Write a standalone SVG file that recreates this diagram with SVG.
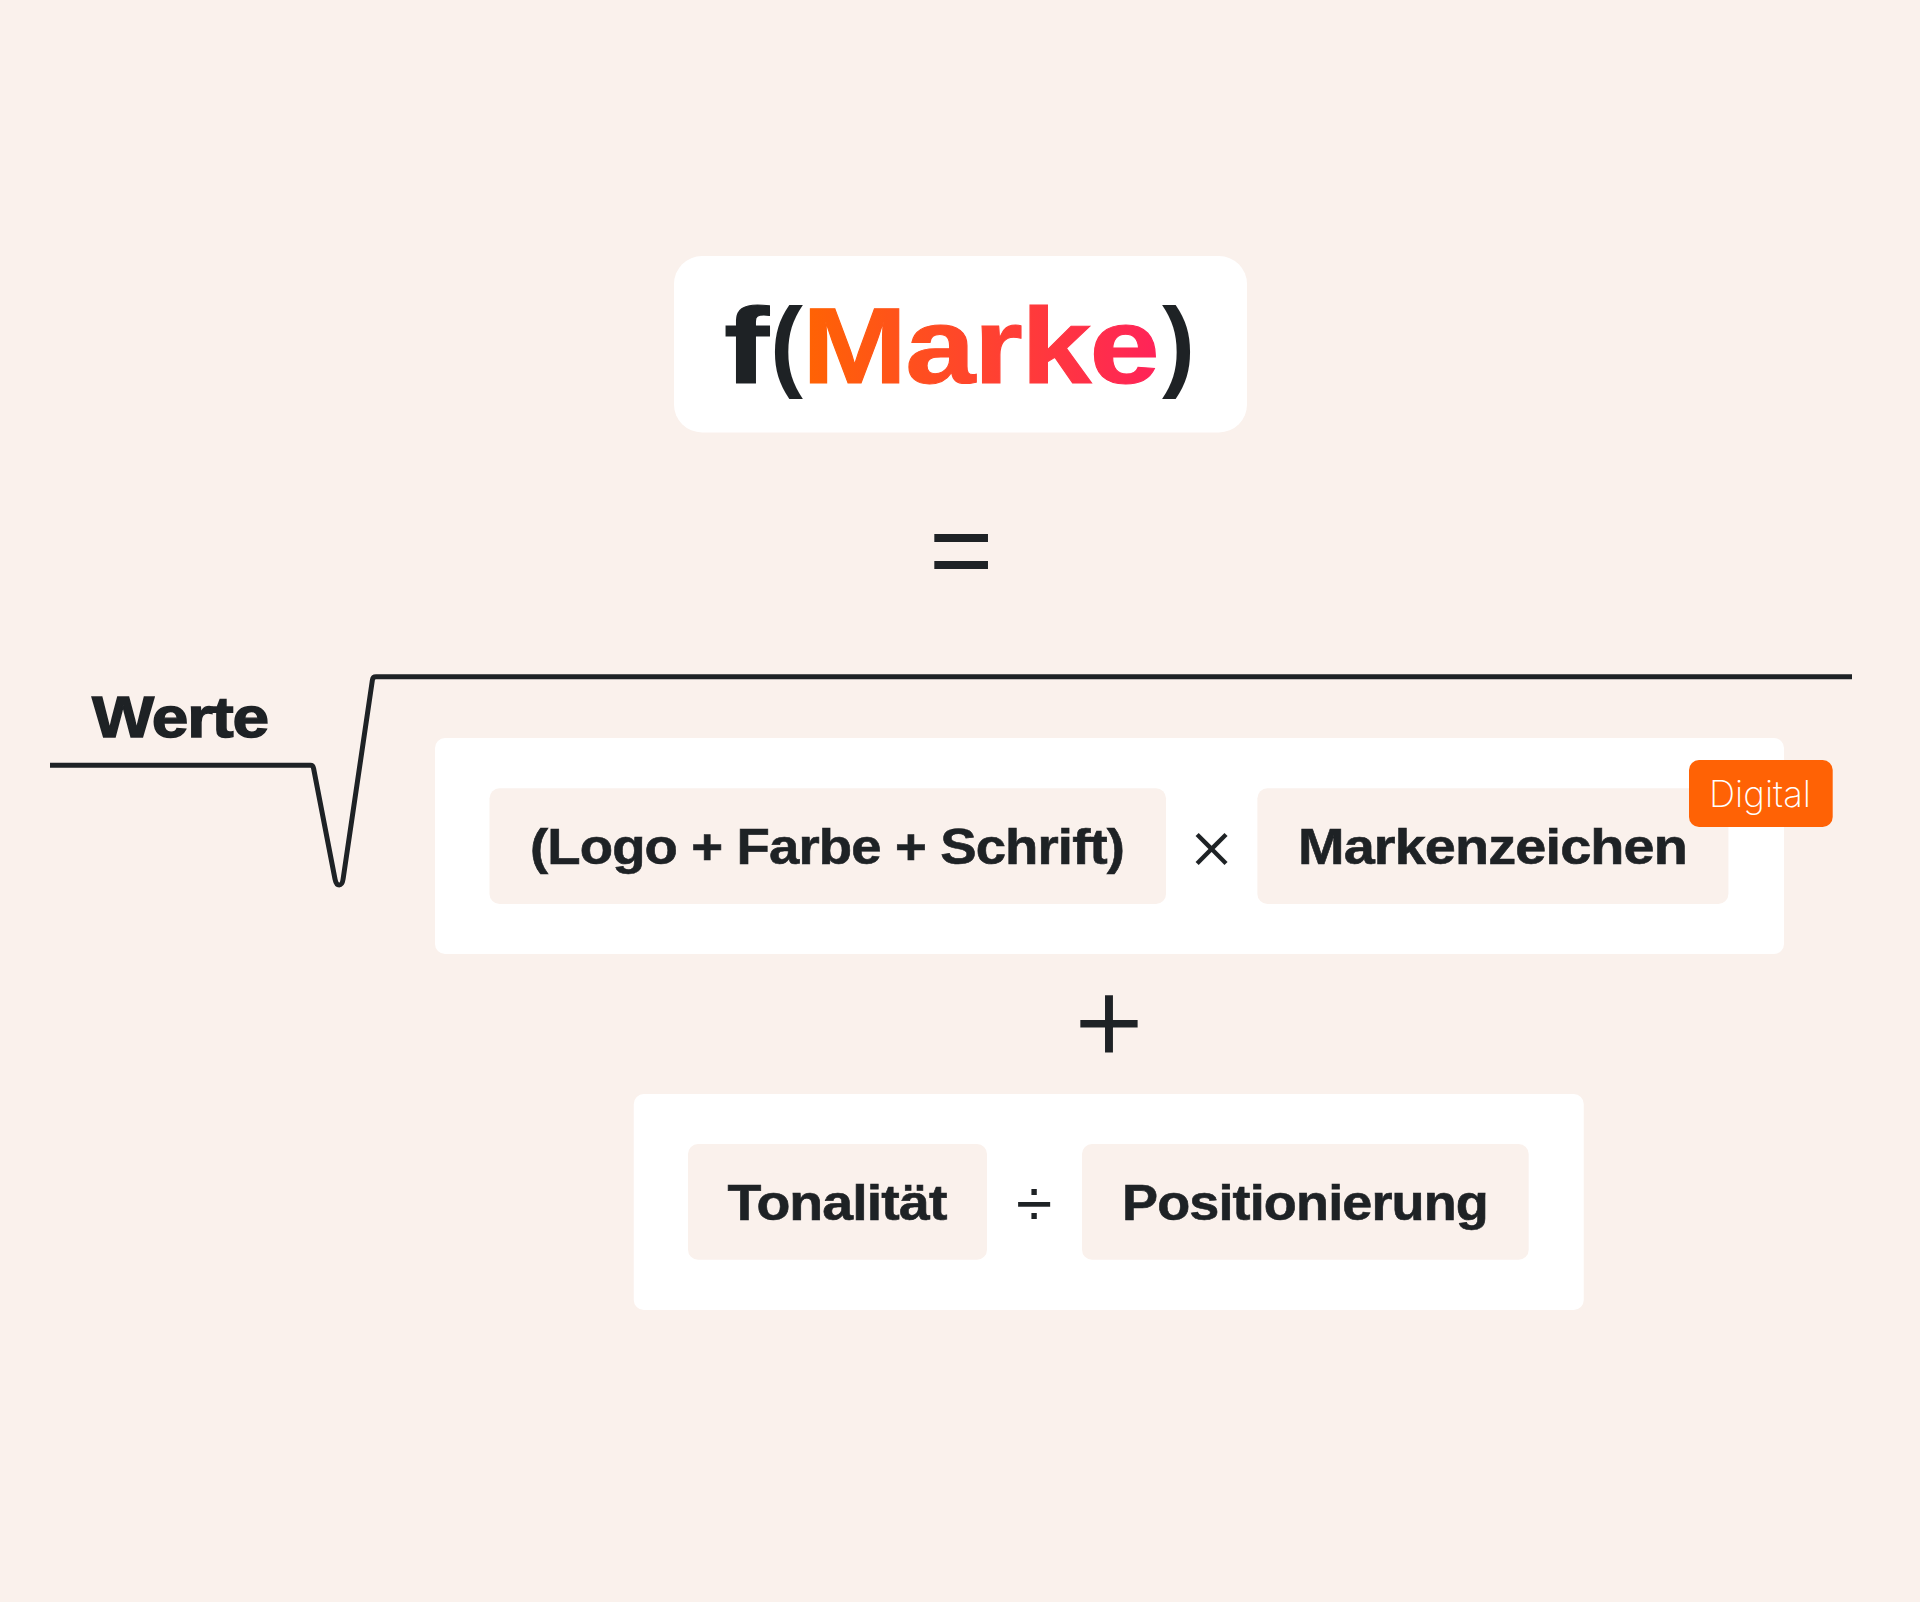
<svg xmlns="http://www.w3.org/2000/svg" width="1920" height="1602" viewBox="0 0 1920 1602">
<style>
.panel{fill:#fff}
.chip{fill:#faf1ec}
.t{font-family:"Liberation Sans",Arial,sans-serif;font-weight:700;fill:#1e2225;stroke:#1e2225}
.l{font-size:50px;letter-spacing:-.8px;stroke-width:.6px}
.h{font-size:107px;stroke-width:1.2px}
.p{font-size:100px;stroke-width:0}
.op{font-family:"Inter","Liberation Sans",sans-serif;font-weight:300;fill:#1e2225}
</style>
<defs>
<linearGradient id="g" gradientUnits="userSpaceOnUse" x1="811" y1="0" x2="1158" y2="0">
<stop offset="0" stop-color="#ff6205"/><stop offset="1" stop-color="#ff2359"/>
</linearGradient>
</defs>
<rect width="1920" height="1602" fill="#faf1ec"/>
<g id="connectors">
<path d="M50 765.3H310.5Q313 765.3 313.6 768.5L335 879Q336.2 885 339.2 885Q342.2 885 343.1 879L372.4 680Q372.9 676.7 376 676.7H1852" fill="none" stroke="#1e2225" stroke-width="5"/>
</g>
<g id="node-title">
<rect class="panel" x="674" y="256" width="573" height="176.5" rx="28"/>
<text class="t h" x="724" y="383" textLength="45" lengthAdjust="spacingAndGlyphs">f</text>
<text class="t p" x="770" y="378" textLength="33" lengthAdjust="spacingAndGlyphs">(</text>
<text x="802" y="383" font-size="107" letter-spacing="-1.5" font-family="Liberation Sans,Arial,sans-serif" font-weight="700" fill="url(#g)" stroke="url(#g)" stroke-width="1" textLength="356" lengthAdjust="spacingAndGlyphs">Marke</text>
<text class="t p" x="1162" y="378" textLength="33" lengthAdjust="spacingAndGlyphs">)</text>
</g>
<g id="node-equals"><text class="op" x="961" y="588.6" font-size="132" text-anchor="middle">=</text></g>
<g id="node-werte"><text class="t" x="92" y="737" font-size="57" letter-spacing="-1" stroke-width="1.4" textLength="176" lengthAdjust="spacingAndGlyphs">Werte</text></g>
<g id="node-group1">
<rect class="panel" x="435" y="738" width="1349" height="216" rx="10"/>
<rect class="chip" x="489.5" y="788.3" width="676.5" height="115.7" rx="10"/>
<text class="t l" x="530" y="864" textLength="594" lengthAdjust="spacingAndGlyphs">(Logo + Farbe + Schrift)</text>
<text class="op" x="1211.5" y="869" font-size="72" text-anchor="middle">×</text>
<rect class="chip" x="1257.4" y="788.3" width="471" height="115.7" rx="10"/>
<text class="t l" x="1298" y="864" textLength="389" lengthAdjust="spacingAndGlyphs">Markenzeichen</text>
</g>
<g id="node-digital">
<rect x="1689" y="760" width="143.7" height="67" rx="10" fill="#ff6205"/>
<text x="1709" y="806.7" font-family="Inter,sans-serif" font-weight="250" font-size="36" fill="#fff" textLength="102" lengthAdjust="spacingAndGlyphs">Digital</text>
</g>
<g id="node-plus"><text class="op" x="1109" y="1059.6" font-size="127" text-anchor="middle">+</text></g>
<g id="node-group2">
<rect class="panel" x="633.75" y="1094" width="950" height="216" rx="10"/>
<rect class="chip" x="688" y="1144" width="299" height="115.7" rx="10"/>
<text class="t l" x="727.5" y="1220" textLength="219" lengthAdjust="spacingAndGlyphs">Tonalität</text>
<text x="1034" y="1226" font-family="Liberation Sans,sans-serif" font-size="66" fill="#1e2225" text-anchor="middle">÷</text>
<rect class="chip" x="1082" y="1144" width="446.7" height="115.7" rx="10"/>
<text class="t l" x="1122" y="1220" textLength="366" lengthAdjust="spacingAndGlyphs">Positionierung</text>
</g>
</svg>
